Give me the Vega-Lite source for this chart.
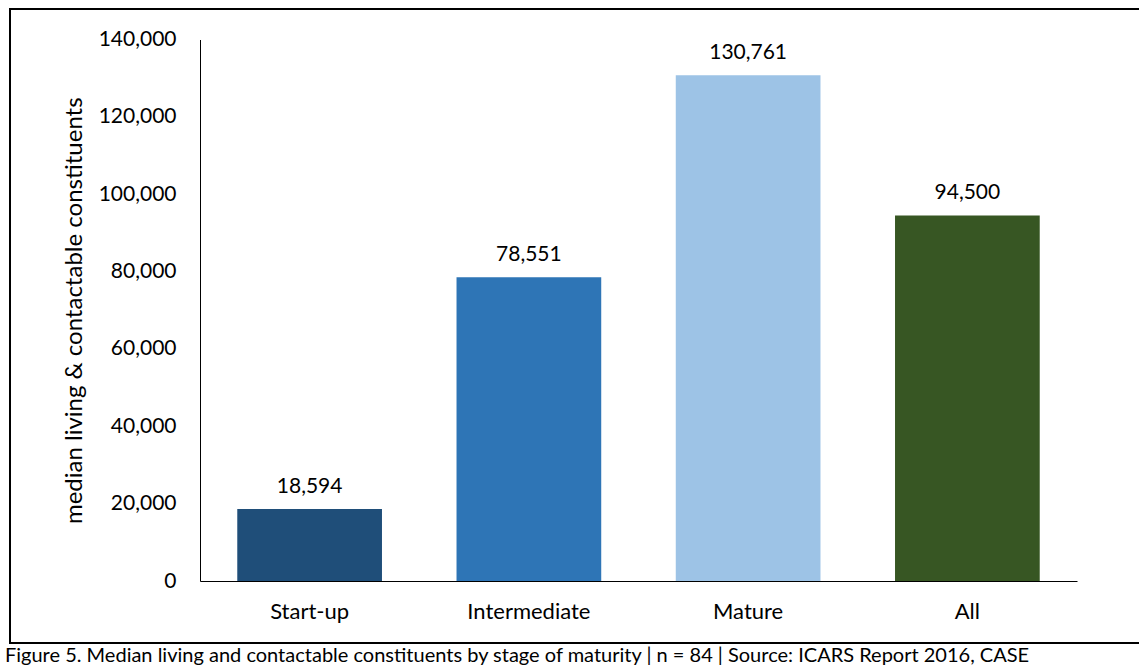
{
  "$schema": "https://vega.github.io/schema/vega-lite/v6.json",
  "width": 1136,
  "height": 634,
  "autosize": "none",
  "padding": {"left": 10, "top": 9, "right": 0, "bottom": 25},
  "background": "white",
  "title": {
    "text": "Figure 5. Median living and contactable constituents by stage of maturity | n = 84 | Source: ICARS Report 2016, CASE",
    "orient": "bottom",
    "anchor": "start",
    "frame": "group",
    "baseline": "alphabetic",
    "offset": 19,
    "dx": -5,
    "font": "Lato",
    "fontSize": 20,
    "fontWeight": "normal",
    "color": "#000000"
  },
  "data": {
    "values": [
      {"stage": "Start-up", "value": 18594},
      {"stage": "Intermediate", "value": 78551},
      {"stage": "Mature", "value": 130761},
      {"stage": "All", "value": 94500}
    ]
  },
  "encoding": {
    "x": {
      "field": "stage",
      "type": "nominal",
      "sort": null,
      "scale": {"range": [190, 1067], "paddingInner": 0.34, "paddingOuter": 0.17},
      "axis": {
        "title": null,
        "offset": -62,
        "ticks": false,
        "tickSize": 0,
        "labelAngle": 0,
        "labelPadding": 20,
        "labelFont": "Lato",
        "labelFontSize": 22,
        "labelColor": "#000000",
        "domainColor": "#000000",
        "domainWidth": 1
      }
    },
    "y": {
      "field": "value",
      "type": "quantitative",
      "scale": {"domain": [0, 140000], "range": [572, 30.5], "nice": false},
      "axis": {
        "title": "median living & contactable constituents",
        "titleFont": "Lato",
        "titleFontSize": 24,
        "titleFontWeight": "normal",
        "titleColor": "#000000",
        "titlePadding": 12,
        "offset": -190,
        "values": [0, 20000, 40000, 60000, 80000, 100000, 120000, 140000],
        "format": ",d",
        "grid": false,
        "ticks": false,
        "tickSize": 0,
        "labelPadding": 24,
        "labelFont": "Lato",
        "labelFontSize": 21,
        "labelColor": "#000000",
        "domainColor": "#000000",
        "domainWidth": 1
      }
    }
  },
  "layer": [
    {
      "mark": {"type": "bar"},
      "encoding": {
        "color": {
          "field": "stage",
          "type": "nominal",
          "scale": {
            "domain": ["Start-up", "Intermediate", "Mature", "All"],
            "range": ["#1F4E79", "#2E75B6", "#9DC3E6", "#375623"]
          },
          "legend": null
        }
      }
    },
    {
      "mark": {
        "type": "text",
        "baseline": "alphabetic",
        "dy": -16,
        "font": "Lato",
        "fontSize": 21,
        "color": "#000000"
      },
      "encoding": {
        "text": {"field": "value", "type": "quantitative", "format": ",d"}
      }
    }
  ],
  "config": {
    "view": {"stroke": "#000000", "strokeWidth": 2}
  }
}
